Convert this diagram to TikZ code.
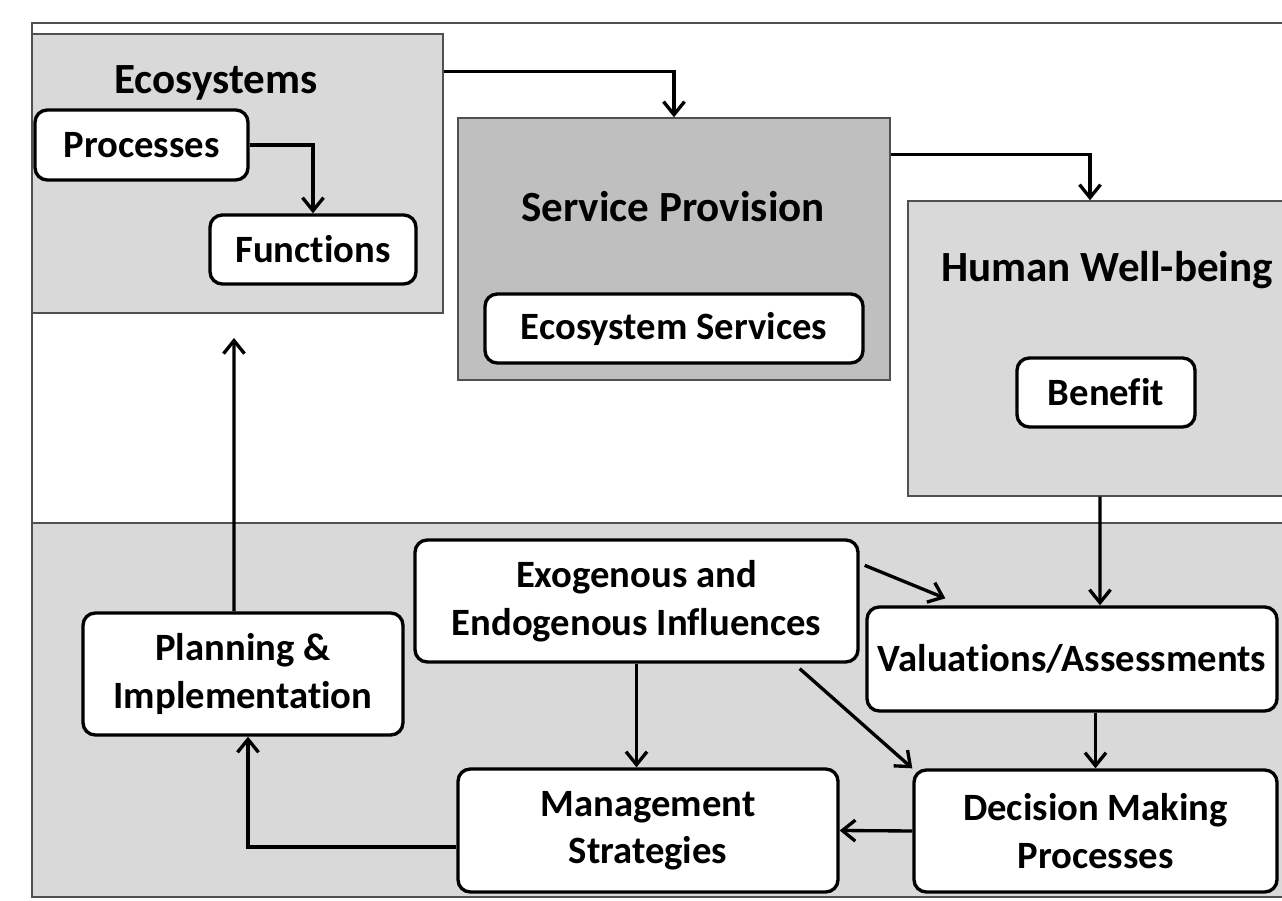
\documentclass[tikz,border=0pt]{standalone}
\usepackage{fontspec}
\setmainfont{Carlito}[Ligatures=NoCommon]
\usetikzlibrary{arrows.meta}
\definecolor{panelgray}{HTML}{D9D9D9}
\definecolor{servgray}{HTML}{BFBFBF}
\definecolor{edgegray}{HTML}{505050}

\begin{document}
\begin{tikzpicture}[
  >={Straight Barb[length=2.6mm,width=4.2mm]},
  area/.style={draw=edgegray,line width=0.8pt,fill=panelgray,inner sep=0pt},
  item/.style={draw,line width=1.9pt,rounded corners=7pt,fill=white,align=center,
    inner sep=0pt,font=\fontsize{22}{27}\selectfont\bfseries},
  heading/.style={font=\fontsize{24.5}{29}\selectfont\bfseries},
  link/.style={->,line width=1.9pt}]
\clip (0,0) rectangle (25.64,18.02);
% lower band and outer frame
\draw[area] (0.64,0.08) rectangle (26.5,7.56);
\draw[edgegray,line width=0.8pt] (26.5,17.56) -- (0.64,17.56) -- (0.64,0.08) -- (26.5,0.08);

% upper row
\node[area,minimum width=8.22cm,minimum height=5.58cm] (eco) at (4.75,14.55) {};
\node[heading] at (4.32,16.36) {Ecosystems};
\node[item,minimum width=4.26cm,minimum height=1.40cm] (proc) at (2.83,15.12) {Processes};
\node[item,minimum width=4.12cm,minimum height=1.38cm] (func) at (6.26,13.03) {Functions};

\node[area,fill=servgray,minimum width=8.64cm,minimum height=5.24cm] (serv) at (13.48,13.04) {};
\node[heading] at (13.46,13.88) {Service Provision};
\node[item,minimum width=7.56cm,minimum height=1.38cm] (esrv) at (13.48,11.45) {Ecosystem Services};

\node[area,minimum width=7.96cm,minimum height=5.90cm] (hwb) at (22.14,11.05) {};
\node[heading] at (22.14,12.62) {Human Well-being};
\node[item,minimum width=3.56cm,minimum height=1.38cm] (ben) at (22.12,10.17) {Benefit};

% lower row
\node[item,minimum width=6.40cm,minimum height=2.44cm] (plan) at (4.86,4.54) {Planning \&\\Implementation};
\node[item,minimum width=8.86cm,minimum height=2.44cm] (exo) at (12.73,6.00) {Exogenous and\\Endogenous Influences};
\node[item,minimum width=8.20cm,minimum height=2.08cm] (val) at (21.44,4.84) {Valuations/Assessments};
\node[item,minimum width=7.60cm,minimum height=2.46cm] (mgmt) at (12.96,1.41) {Management\\Strategies};
\node[item,minimum width=7.26cm,minimum height=2.44cm] (dec) at (21.91,1.40) {Decision Making\\Processes};

\coordinate (ecoin) at (4.68,11.26);

\draw[link] (proc.east) -| (func.north);
\draw[link] ([yshift=-0.76cm]eco.north east) -| (serv.north);
\draw[link] ([yshift=-0.74cm]serv.north east) -| ([xshift=-0.34cm]hwb.north);
\draw[link] ([xshift=-0.14cm]hwb.south) -- ([xshift=0.56cm]val.north);
\draw[link] ([xshift=0.1cm,yshift=-0.54cm]exo.north east) -- ([xshift=1.6cm,yshift=0.14cm]val.north west);
\draw[link] (exo.south) -- (exo.south |- mgmt.north);
\draw[link] ([xshift=-1.2cm,yshift=-0.1cm]exo.south east) -- (dec.north west);
\draw[link] (dec.north |- val.south) -- (dec.north);
\draw[link] (dec.west) -- (mgmt.east);
\draw[link] ([yshift=-0.33cm]mgmt.west) -| ([xshift=0.1cm]plan.south);
\draw[link] ([xshift=-0.18cm]plan.north) -- (ecoin);
\end{tikzpicture}
\end{document}
